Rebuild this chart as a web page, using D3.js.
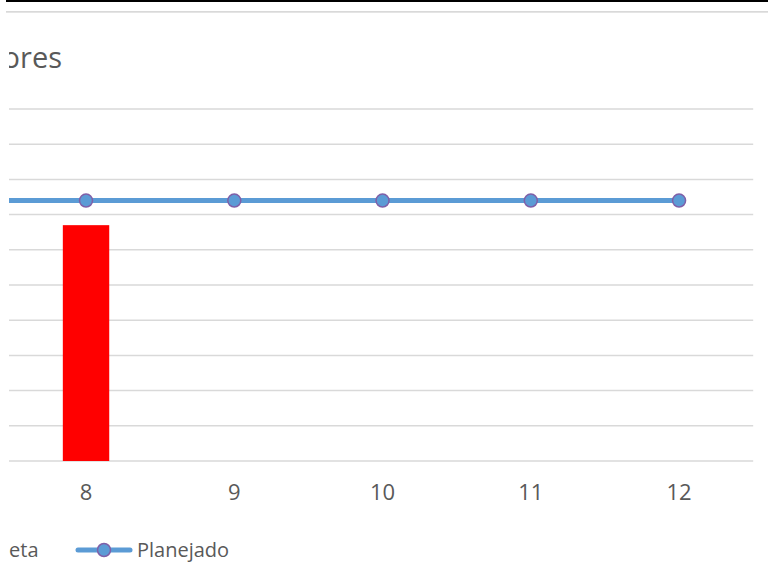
<script src="https://d3js.org/d3.v7.min.js"></script>

<style>body { margin: 0; }</style>
<svg id="main_canvas" width=768 height=580></svg>

<script>
  "use strict";
  const WIDTH = 768;
  const HEIGHT = 580;

  // data (category 7 sits just off the left edge of the picture)
  const months = ["7", "8", "9", "10", "11", "12"];
  const planejado = [74, 74, 74, 74, 74, 74];
  const meta = [null, 67, null, null, null, null];
  const yTicks = [0, 10, 20, 30, 40, 50, 60, 70, 80, 90, 100];

  const CLIP_LEFT = 9;
  const BAND_LEFT = 11.9;
  const PLOT_RIGHT = 753.2;
  const PLOT_TOP = 109;
  const PLOT_BOTTOM = 461;
  const BAND = (PLOT_RIGHT - BAND_LEFT) / 5;
  const FONT = "'Open Sans', 'Noto Sans', sans-serif";
  const TEXT_COLOR = "#595959";

  const canvas = d3.select("#main_canvas")
    .attr("style", "background-color: white; display: block");

  const x = d3.scaleBand()
    .domain(months)
    .range([BAND_LEFT - BAND, PLOT_RIGHT]);

  const y = d3.scaleLinear()
    .domain([0, 100])
    .range([PLOT_BOTTOM, PLOT_TOP]);

  // clip everything left of the visible crop
  canvas.append("defs")
    .append("clipPath")
    .attr("id", "crop")
    .append("rect")
    .attr("x", CLIP_LEFT)
    .attr("y", 0)
    .attr("width", WIDTH - CLIP_LEFT)
    .attr("height", HEIGHT);

  // top borders
  canvas.append("rect")
    .attr("x", 6).attr("y", 0)
    .attr("width", WIDTH - 6).attr("height", 2)
    .attr("fill", "black");
  canvas.append("rect")
    .attr("x", 6).attr("y", 11)
    .attr("width", WIDTH - 6).attr("height", 1.7)
    .attr("fill", "#d9d9d9");

  const chart = canvas.append("g").attr("clip-path", "url(#crop)");

  // title (cut off on the left)
  chart.append("text")
    .attr("x", 62)
    .attr("y", 68)
    .attr("text-anchor", "end")
    .attr("font-family", FONT)
    .attr("font-size", 29)
    .attr("fill", TEXT_COLOR)
    .text("Valores");

  // gridlines
  chart.append("g")
    .selectAll("line")
    .data(yTicks)
    .enter()
    .append("line")
    .attr("x1", CLIP_LEFT)
    .attr("x2", PLOT_RIGHT)
    .attr("y1", (d) => y(d))
    .attr("y2", (d) => y(d))
    .attr("stroke", "#d9d9d9")
    .attr("stroke-width", 1.5);

  // x axis labels (only the visible months)
  const xAxis = d3.axisBottom(x)
    .tickValues(months.slice(1))
    .tickSize(0)
    .tickPadding(23);
  const axisG = chart.append("g")
    .attr("transform", `translate(0, ${PLOT_BOTTOM})`)
    .call(xAxis);
  axisG.select(".domain").remove();
  axisG.selectAll("text")
    .attr("font-family", FONT)
    .attr("font-size", 22)
    .attr("fill", TEXT_COLOR);

  // bars (Meta)
  const BAR_W = x.bandwidth() * 0.313;
  chart.append("g")
    .selectAll("rect")
    .data(months.map((m, i) => ({ m: m, v: meta[i] })).filter((d) => d.v !== null))
    .enter()
    .append("rect")
    .attr("x", (d) => x(d.m) + x.bandwidth() / 2 - BAR_W / 2)
    .attr("y", (d) => y(d.v))
    .attr("width", BAR_W)
    .attr("height", (d) => y(0) - y(d.v))
    .attr("fill", "#ff0000");

  // line (Planejado)
  const pts = months.map((m, i) => ({ m: m, v: planejado[i] }));
  const line = d3.line()
    .x((d) => x(d.m) + x.bandwidth() / 2)
    .y((d) => y(d.v));
  chart.append("path")
    .datum(pts)
    .attr("d", line)
    .attr("fill", "none")
    .attr("stroke", "#5b9bd5")
    .attr("stroke-width", 5);
  chart.append("g")
    .selectAll("circle")
    .data(pts)
    .enter()
    .append("circle")
    .attr("cx", (d) => x(d.m) + x.bandwidth() / 2)
    .attr("cy", (d) => y(d.v))
    .attr("r", 6.5)
    .attr("fill", "#5b9bd5")
    .attr("stroke", "#7f5fa8")
    .attr("stroke-width", 1.5);

  // legend
  const LEG_Y = 550;
  const legend = chart.append("g");
  legend.append("text")
    .attr("x", 38.5)
    .attr("y", LEG_Y)
    .attr("dy", "0.35em")
    .attr("text-anchor", "end")
    .attr("font-family", FONT)
    .attr("font-size", 20)
    .attr("fill", TEXT_COLOR)
    .text("Meta");
  legend.append("line")
    .attr("x1", 78).attr("x2", 130)
    .attr("y1", LEG_Y).attr("y2", LEG_Y)
    .attr("stroke", "#5b9bd5")
    .attr("stroke-width", 5)
    .attr("stroke-linecap", "round");
  legend.append("circle")
    .attr("cx", 104).attr("cy", LEG_Y)
    .attr("r", 6.5)
    .attr("fill", "#5b9bd5")
    .attr("stroke", "#7f5fa8")
    .attr("stroke-width", 1.5);
  legend.append("text")
    .attr("x", 137)
    .attr("y", LEG_Y)
    .attr("dy", "0.35em")
    .attr("font-family", FONT)
    .attr("font-size", 20)
    .attr("fill", TEXT_COLOR)
    .text("Planejado");
</script>
